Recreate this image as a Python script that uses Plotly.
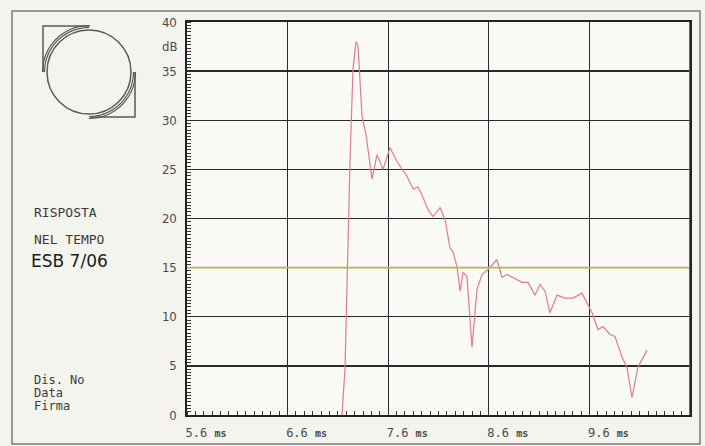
import numpy as np
import plotly.graph_objects as go

W, H = 705, 446

# ---- data ----
time_ms = [7.141, 7.171, 7.220, 7.250, 7.280, 7.300, 7.340, 7.380, 7.439, 7.489,
           7.548, 7.618, 7.687, 7.787, 7.847, 7.896, 7.936, 7.996, 8.045, 8.115,
           8.165, 8.214, 8.244, 8.284, 8.314, 8.344, 8.383, 8.433, 8.483, 8.532,
           8.592, 8.681, 8.731, 8.781, 8.841, 8.930, 8.990, 9.059, 9.109, 9.159,
           9.208, 9.278, 9.357, 9.437, 9.526, 9.576, 9.626, 9.686, 9.735, 9.805,
           9.854, 9.924, 9.974, 10.023, 10.083, 10.173]
level_db = [0.0, 4.8, 25.7, 35.2, 38.0, 37.6, 30.4, 28.5, 24.0, 26.5,
            25.0, 27.2, 25.8, 24.3, 23.0, 23.2, 22.4, 20.9, 20.2, 21.1,
            19.9, 17.0, 16.6, 15.1, 12.6, 14.5, 14.1, 6.9, 12.8, 14.3,
            14.8, 15.8, 14.0, 14.3, 14.0, 13.5, 13.5, 12.2, 13.3, 12.6,
            10.4, 12.2, 11.9, 11.9, 12.4, 11.4, 10.4, 8.7, 9.0, 8.2,
            8.0, 5.9, 4.8, 1.8, 4.9, 6.6]

x_ticks = [5.6, 6.6, 7.6, 8.6, 9.6]
x_ticklabels = ["5.6", "6.6", "7.6", "8.6", "9.6"]
y_ticks = [0, 5, 10, 15, 20, 25, 30, 35, 40]

# plot area in pixels
L, R, T, B = 187, 690, 22, 415


def px(x):
    return x / W


def py(y):
    return 1 - y / H


fig = go.Figure()
fig.add_trace(go.Scatter(x=time_ms, y=level_db, mode="lines",
                         line=dict(color="#e27a94", width=1.2),
                         hoverinfo="skip", showlegend=False))

axis_font = dict(family="Liberation Sans Narrow, DejaVu Sans Condensed, sans-serif",
                 size=13, color="#4a4a4a")

fig.update_layout(
    width=W, height=H, autosize=False,
    margin=dict(l=0, r=0, t=0, b=0, pad=0),
    paper_bgcolor="#f3f4ee",
    plot_bgcolor="#f9f9f5",
    xaxis=dict(domain=[px(L), px(R)], range=[5.6, 10.6], automargin=False,
               tickvals=x_ticks,
               ticktext=[f"{t} <b><span style='font-size:10px'>ms</span></b>" for t in x_ticklabels],
               tickfont=dict(family="DejaVu Sans Mono, monospace", size=12, color="#4a4a4a"),
               ticklabelshift=19, ticklabelstandoff=6,
               showgrid=True, gridcolor="#2a2a2a", gridwidth=1.4,
               showline=True, linecolor="#222", linewidth=1.6, mirror=True,
               ticks="", zeroline=False,
               minor=dict(ticks="inside", ticklen=4, tickcolor="#333",
                          tick0=5.6, dtick=1 / 12, showgrid=False)),
    yaxis=dict(domain=[py(B), py(T)], range=[0, 40], automargin=False,
               tickvals=y_ticks, tickfont=axis_font,
               ticklabelstandoff=6,
               showgrid=True, gridcolor="#2a2a2a", gridwidth=1.4,
               showline=True, linecolor="#222", linewidth=1.6, mirror=True,
               ticks="", zeroline=False,
               minor=dict(ticks="inside", ticklen=4, tickcolor="#333",
                          tick0=0, dtick=1 / 3, showgrid=False)),
)

shapes = []
# 15 dB reference line in olive-yellow
shapes.append(dict(type="line", xref="x", yref="y", x0=5.6, x1=10.6, y0=15, y1=15,
                   line=dict(color="#b8b848", width=1.6), layer="above"))
# right border in dark red
shapes.append(dict(type="line", xref="x", yref="y", x0=10.6, x1=10.6, y0=0, y1=40,
                   line=dict(color="#9a3a4e", width=1.8), layer="above"))
# outer frame
shapes.append(dict(type="rect", xref="paper", yref="paper",
                   x0=px(12), x1=px(700), y0=py(444), y1=py(11),
                   line=dict(color="#7a7a7a", width=1.5)))

# logo: circle, brackets, arcs
cx, cy, r = 89, 72, 42
shapes.append(dict(type="circle", xref="paper", yref="paper",
                   x0=px(cx - r), x1=px(cx + r), y0=py(cy + r), y1=py(cy - r),
                   line=dict(color="#5a5a5a", width=1.5)))
shapes.append(dict(type="path", xref="paper", yref="paper",
                   path=f"M {px(90)},{py(26)} L {px(43)},{py(26)} L {px(43)},{py(72)}",
                   line=dict(color="#5a5a5a", width=1.5)))
shapes.append(dict(type="path", xref="paper", yref="paper",
                   path=f"M {px(135)},{py(72)} L {px(135)},{py(117)} L {px(90)},{py(117)}",
                   line=dict(color="#5a5a5a", width=1.5)))


def arc(rad, a0, a1):
    ang = np.radians(np.linspace(a0, a1, 30))
    xs = cx + rad * np.cos(ang)
    ys = cy - rad * np.sin(ang)
    return "M " + " L ".join(f"{px(a)},{py(b)}" for a, b in zip(xs, ys))


for rad in (44.5, 46.5):
    shapes.append(dict(type="path", xref="paper", yref="paper", path=arc(rad, 90, 180),
                       line=dict(color="#5a5a5a", width=1.2)))
    shapes.append(dict(type="path", xref="paper", yref="paper", path=arc(rad, 270, 360),
                       line=dict(color="#5a5a5a", width=1.2)))

fig.update_layout(shapes=shapes)

mono = dict(family="DejaVu Sans Mono, monospace", size=13, color="#3a3a3a")
small = dict(family="DejaVu Sans Mono, monospace", size=12, color="#3a3a3a")
ann = [
    dict(text="dB", x=px(179), y=py(47), xanchor="right", font=axis_font),
    dict(text="RISPOSTA", x=px(32), y=py(213), xanchor="left", font=mono),
    dict(text="NEL TEMPO", x=px(32), y=py(239), xanchor="left", font=mono),
    dict(text="ESB 7/06", x=px(29), y=py(261), xanchor="left",
         font=dict(family="DejaVu Sans, sans-serif", size=17, color="#1a1a1a")),
    dict(text="Dis. No", x=px(32), y=py(380), xanchor="left", font=small),
    dict(text="Data", x=px(32), y=py(393), xanchor="left", font=small),
    dict(text="Firma", x=px(32), y=py(406), xanchor="left", font=small),
]
for a in ann:
    a.update(xref="paper", yref="paper", yanchor="middle", showarrow=False)
fig.update_layout(annotations=ann)

fig.write_html(
    "out.html",
    config={"displayModeBar": False, "staticPlot": True},
    post_script="document.body.style.margin='0';document.body.style.padding='0';"
                "document.body.style.overflow='hidden';",
)
